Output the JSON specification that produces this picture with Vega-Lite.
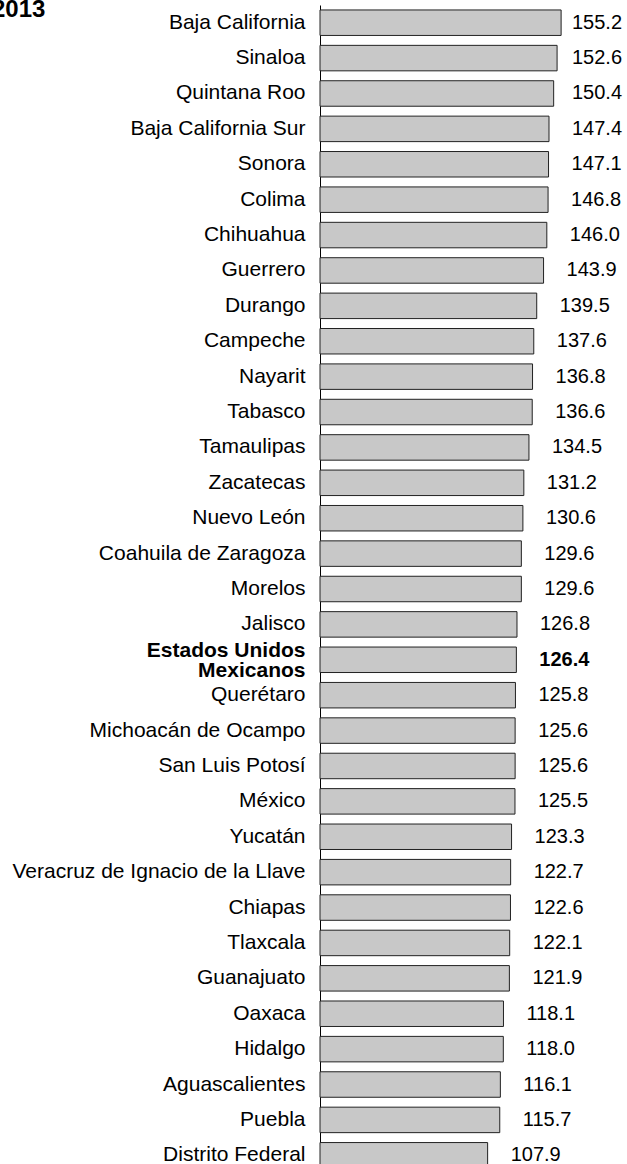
{
  "$schema": "https://vega.github.io/schema/vega-lite/v6.json",
  "autosize": "none",
  "padding": {"left": 320, "top": 5, "right": 78, "bottom": 0},
  "width": 229,
  "height": 1168,
  "background": "white",
  "title": {"text": "2013", "anchor": "start", "frame": "group", "font": "Liberation Sans", "fontSize": 24, "fontWeight": "bold", "color": "black", "dx": -328, "baseline": "alphabetic", "offset": -36},
  "config": {"view": {"stroke": null}, "font": "Liberation Sans"},
  "data": {"values": [
    {"state": "Baja California", "value": 155.2},
    {"state": "Sinaloa", "value": 152.6},
    {"state": "Quintana Roo", "value": 150.4},
    {"state": "Baja California Sur", "value": 147.4},
    {"state": "Sonora", "value": 147.1},
    {"state": "Colima", "value": 146.8},
    {"state": "Chihuahua", "value": 146.0},
    {"state": "Guerrero", "value": 143.9},
    {"state": "Durango", "value": 139.5},
    {"state": "Campeche", "value": 137.6},
    {"state": "Nayarit", "value": 136.8},
    {"state": "Tabasco", "value": 136.6},
    {"state": "Tamaulipas", "value": 134.5},
    {"state": "Zacatecas", "value": 131.2},
    {"state": "Nuevo León", "value": 130.6},
    {"state": "Coahuila de Zaragoza", "value": 129.6},
    {"state": "Morelos", "value": 129.6},
    {"state": "Jalisco", "value": 126.8},
    {"state": "Estados Unidos Mexicanos", "value": 126.4},
    {"state": "Querétaro", "value": 125.8},
    {"state": "Michoacán de Ocampo", "value": 125.6},
    {"state": "San Luis Potosí", "value": 125.6},
    {"state": "México", "value": 125.5},
    {"state": "Yucatán", "value": 123.3},
    {"state": "Veracruz de Ignacio de la Llave", "value": 122.7},
    {"state": "Chiapas", "value": 122.6},
    {"state": "Tlaxcala", "value": 122.1},
    {"state": "Guanajuato", "value": 121.9},
    {"state": "Oaxaca", "value": 118.1},
    {"state": "Hidalgo", "value": 118.0},
    {"state": "Aguascalientes", "value": 116.1},
    {"state": "Puebla", "value": 115.7},
    {"state": "Distrito Federal", "value": 107.9}
  ]},
  "encoding": {
    "y": {
      "field": "state", "type": "nominal", "sort": null,
      "scale": {"paddingInner": 0.28, "paddingOuter": 0.14},
      "axis": {
        "title": null, "ticks": false, "labelPadding": 15, "labelLimit": 400,
        "domainColor": "black", "domainWidth": 1,
        "labelFont": "Liberation Sans", "labelFontSize": 21, "labelColor": "black",
        "labelLineHeight": 20,
        "labelFontWeight": {"condition": {"test": "datum.value == 'Estados Unidos Mexicanos'", "value": "bold"}, "value": "normal"},
        "labelOffset": {"condition": {"test": "datum.value == 'Estados Unidos Mexicanos'", "value": -9}, "value": 0},
        "labelExpr": "datum.value == 'Estados Unidos Mexicanos' ? ['Estados Unidos', 'Mexicanos'] : datum.value"
      }
    }
  },
  "layer": [
    {
      "mark": {"type": "bar", "fill": "#c8c8c8", "stroke": "#222222", "strokeWidth": 1},
      "encoding": {
        "x": {"field": "value", "type": "quantitative", "scale": {"domain": [0, 147.4], "nice": false, "zero": true}, "axis": null}
      }
    },
    {
      "transform": [{"filter": "datum.state != 'Estados Unidos Mexicanos'"}],
      "mark": {"type": "text", "align": "left", "baseline": "middle", "dx": 23, "fontSize": 20, "font": "Liberation Sans", "color": "black"},
      "encoding": {
        "x": {"field": "value", "type": "quantitative", "scale": {"domain": [0, 147.4], "nice": false, "zero": true, "clamp": true}, "axis": null},
        "text": {"field": "value", "type": "quantitative", "format": ".1f"}
      }
    },
    {
      "transform": [{"filter": "datum.state == 'Estados Unidos Mexicanos'"}],
      "mark": {"type": "text", "align": "left", "baseline": "middle", "dx": 23, "fontSize": 20, "fontWeight": "bold", "font": "Liberation Sans", "color": "black"},
      "encoding": {
        "x": {"field": "value", "type": "quantitative", "scale": {"domain": [0, 147.4], "nice": false, "zero": true, "clamp": true}, "axis": null},
        "text": {"field": "value", "type": "quantitative", "format": ".1f"}
      }
    }
  ],
  "resolve": {"scale": {"x": "independent"}}
}
